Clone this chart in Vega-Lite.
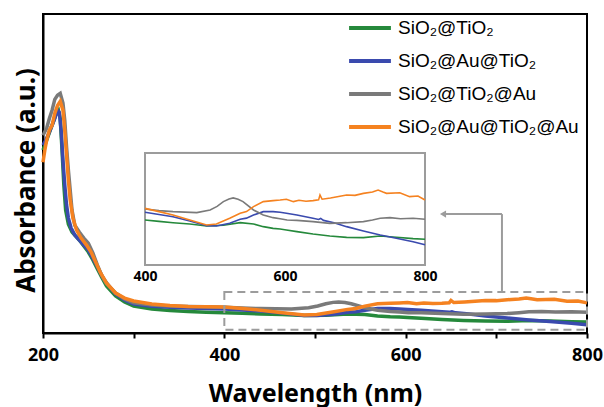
{
  "$schema": "https://vega.github.io/schema/vega-lite/v6.json",
  "width": 544,
  "height": 319,
  "autosize": {"type": "none"},
  "padding": {"left": 43, "top": 14, "right": 17, "bottom": 74},
  "config": {"view": {"stroke": "#000", "strokeWidth": 2}, "font": "Noto Sans"},
  "datasets": {
    "spec": [
      {"s":"SiO₂@TiO₂","w":200,"v":58.1},{"s":"SiO₂@TiO₂","w":204,"v":61.2},{"s":"SiO₂@TiO₂","w":208,"v":64.4},{"s":"SiO₂@TiO₂","w":212,"v":67.5},{"s":"SiO₂@TiO₂","w":215,"v":70.0},{"s":"SiO₂@TiO₂","w":217,"v":70.7},{"s":"SiO₂@TiO₂","w":219,"v":68.1},{"s":"SiO₂@TiO₂","w":221,"v":58.1},{"s":"SiO₂@TiO₂","w":223,"v":47.1},{"s":"SiO₂@TiO₂","w":225,"v":39.2},{"s":"SiO₂@TiO₂","w":228,"v":34.8},{"s":"SiO₂@TiO₂","w":232,"v":32.3},{"s":"SiO₂@TiO₂","w":236,"v":31.0},{"s":"SiO₂@TiO₂","w":240,"v":29.8},{"s":"SiO₂@TiO₂","w":245,"v":27.9},{"s":"SiO₂@TiO₂","w":250,"v":26.0},{"s":"SiO₂@TiO₂","w":255,"v":23.5},{"s":"SiO₂@TiO₂","w":260,"v":20.7},{"s":"SiO₂@TiO₂","w":265,"v":17.9},{"s":"SiO₂@TiO₂","w":270,"v":15.3},{"s":"SiO₂@TiO₂","w":280,"v":12.2},{"s":"SiO₂@TiO₂","w":290,"v":10.3},{"s":"SiO₂@TiO₂","w":300,"v":9.02},{"s":"SiO₂@TiO₂","w":320,"v":8.08},{"s":"SiO₂@TiO₂","w":340,"v":7.61},{"s":"SiO₂@TiO₂","w":360,"v":7.3},{"s":"SiO₂@TiO₂","w":380,"v":7.05},{"s":"SiO₂@TiO₂","w":400,"v":6.91},{"s":"SiO₂@TiO₂","w":420,"v":6.7},{"s":"SiO₂@TiO₂","w":440,"v":6.5},{"s":"SiO₂@TiO₂","w":464,"v":6.3},{"s":"SiO₂@TiO₂","w":488,"v":5.99},{"s":"SiO₂@TiO₂","w":512,"v":6.1},{"s":"SiO₂@TiO₂","w":536,"v":6.5},{"s":"SiO₂@TiO₂","w":555,"v":6.3},{"s":"SiO₂@TiO₂","w":569,"v":5.89},{"s":"SiO₂@TiO₂","w":583,"v":5.63},{"s":"SiO₂@TiO₂","w":593,"v":5.53},{"s":"SiO₂@TiO₂","w":602,"v":5.38},{"s":"SiO₂@TiO₂","w":617,"v":5.12},{"s":"SiO₂@TiO₂","w":640,"v":4.76},{"s":"SiO₂@TiO₂","w":664,"v":4.45},{"s":"SiO₂@TiO₂","w":688,"v":4.25},{"s":"SiO₂@TiO₂","w":712,"v":4.2},{"s":"SiO₂@TiO₂","w":736,"v":4.45},{"s":"SiO₂@TiO₂","w":759,"v":4.25},{"s":"SiO₂@TiO₂","w":783,"v":4.05},{"s":"SiO₂@TiO₂","w":800,"v":3.95},
      {"s":"SiO₂@Au@TiO₂","w":200,"v":59.7},{"s":"SiO₂@Au@TiO₂","w":203,"v":61.2},{"s":"SiO₂@Au@TiO₂","w":206,"v":63.1},{"s":"SiO₂@Au@TiO₂","w":210,"v":65.9},{"s":"SiO₂@Au@TiO₂","w":213,"v":68.1},{"s":"SiO₂@Au@TiO₂","w":216,"v":70.7},{"s":"SiO₂@Au@TiO₂","w":218,"v":70.0},{"s":"SiO₂@Au@TiO₂","w":220,"v":64.4},{"s":"SiO₂@Au@TiO₂","w":222,"v":54.9},{"s":"SiO₂@Au@TiO₂","w":224,"v":47.1},{"s":"SiO₂@Au@TiO₂","w":226,"v":40.8},{"s":"SiO₂@Au@TiO₂","w":228,"v":36.7},{"s":"SiO₂@Au@TiO₂","w":231,"v":33.6},{"s":"SiO₂@Au@TiO₂","w":235,"v":31.4},{"s":"SiO₂@Au@TiO₂","w":240,"v":29.8},{"s":"SiO₂@Au@TiO₂","w":245,"v":28.2},{"s":"SiO₂@Au@TiO₂","w":250,"v":26.6},{"s":"SiO₂@Au@TiO₂","w":255,"v":24.1},{"s":"SiO₂@Au@TiO₂","w":260,"v":21.3},{"s":"SiO₂@Au@TiO₂","w":265,"v":18.5},{"s":"SiO₂@Au@TiO₂","w":270,"v":16.3},{"s":"SiO₂@Au@TiO₂","w":280,"v":12.8},{"s":"SiO₂@Au@TiO₂","w":290,"v":10.9},{"s":"SiO₂@Au@TiO₂","w":300,"v":9.65},{"s":"SiO₂@Au@TiO₂","w":320,"v":8.9},{"s":"SiO₂@Au@TiO₂","w":340,"v":8.6},{"s":"SiO₂@Au@TiO₂","w":360,"v":8.4},{"s":"SiO₂@Au@TiO₂","w":380,"v":8.25},{"s":"SiO₂@Au@TiO₂","w":400,"v":8.09},{"s":"SiO₂@Au@TiO₂","w":420,"v":7.75},{"s":"SiO₂@Au@TiO₂","w":440,"v":7.42},{"s":"SiO₂@Au@TiO₂","w":464,"v":6.76},{"s":"SiO₂@Au@TiO₂","w":488,"v":6.04},{"s":"SiO₂@Au@TiO₂","w":502,"v":5.99},{"s":"SiO₂@Au@TiO₂","w":521,"v":6.4},{"s":"SiO₂@Au@TiO₂","w":536,"v":7.02},{"s":"SiO₂@Au@TiO₂","w":545,"v":7.2},{"s":"SiO₂@Au@TiO₂","w":555,"v":7.68},{"s":"SiO₂@Au@TiO₂","w":569,"v":8.19},{"s":"SiO₂@Au@TiO₂","w":583,"v":8.19},{"s":"SiO₂@Au@TiO₂","w":593,"v":8.09},{"s":"SiO₂@Au@TiO₂","w":602,"v":7.94},{"s":"SiO₂@Au@TiO₂","w":617,"v":7.68},{"s":"SiO₂@Au@TiO₂","w":640,"v":7.17},{"s":"SiO₂@Au@TiO₂","w":648,"v":7.0},{"s":"SiO₂@Au@TiO₂","w":651,"v":7.15},{"s":"SiO₂@Au@TiO₂","w":655,"v":6.85},{"s":"SiO₂@Au@TiO₂","w":670,"v":6.5},{"s":"SiO₂@Au@TiO₂","w":688,"v":5.89},{"s":"SiO₂@Au@TiO₂","w":712,"v":5.22},{"s":"SiO₂@Au@TiO₂","w":736,"v":4.61},{"s":"SiO₂@Au@TiO₂","w":759,"v":4.1},{"s":"SiO₂@Au@TiO₂","w":783,"v":3.58},{"s":"SiO₂@Au@TiO₂","w":800,"v":3.1},
      {"s":"SiO₂@TiO₂@Au","w":200,"v":62.8},{"s":"SiO₂@TiO₂@Au","w":204,"v":65.0},{"s":"SiO₂@TiO₂@Au","w":207,"v":68.1},{"s":"SiO₂@TiO₂@Au","w":210,"v":70.7},{"s":"SiO₂@TiO₂@Au","w":213,"v":74.1},{"s":"SiO₂@TiO₂@Au","w":216,"v":75.4},{"s":"SiO₂@TiO₂@Au","w":219,"v":76.0},{"s":"SiO₂@TiO₂@Au","w":222,"v":72.9},{"s":"SiO₂@TiO₂@Au","w":224,"v":67.5},{"s":"SiO₂@TiO₂@Au","w":226,"v":59.0},{"s":"SiO₂@TiO₂@Au","w":228,"v":51.8},{"s":"SiO₂@TiO₂@Au","w":230,"v":45.5},{"s":"SiO₂@TiO₂@Au","w":232,"v":39.2},{"s":"SiO₂@TiO₂@Au","w":235,"v":34.5},{"s":"SiO₂@TiO₂@Au","w":240,"v":32.3},{"s":"SiO₂@TiO₂@Au","w":245,"v":30.4},{"s":"SiO₂@TiO₂@Au","w":250,"v":28.8},{"s":"SiO₂@TiO₂@Au","w":255,"v":25.7},{"s":"SiO₂@TiO₂@Au","w":260,"v":21.9},{"s":"SiO₂@TiO₂@Au","w":265,"v":18.5},{"s":"SiO₂@TiO₂@Au","w":270,"v":16.0},{"s":"SiO₂@TiO₂@Au","w":280,"v":13.1},{"s":"SiO₂@TiO₂@Au","w":290,"v":11.2},{"s":"SiO₂@TiO₂@Au","w":300,"v":10.0},{"s":"SiO₂@TiO₂@Au","w":320,"v":9.3},{"s":"SiO₂@TiO₂@Au","w":340,"v":9.0},{"s":"SiO₂@TiO₂@Au","w":360,"v":8.85},{"s":"SiO₂@TiO₂@Au","w":380,"v":8.75},{"s":"SiO₂@TiO₂@Au","w":400,"v":8.6},{"s":"SiO₂@TiO₂@Au","w":420,"v":8.35},{"s":"SiO₂@TiO₂@Au","w":440,"v":8.19},{"s":"SiO₂@TiO₂@Au","w":474,"v":8.04},{"s":"SiO₂@TiO₂@Au","w":493,"v":8.45},{"s":"SiO₂@TiO₂@Au","w":503,"v":9.0},{"s":"SiO₂@TiO₂@Au","w":512,"v":9.73},{"s":"SiO₂@TiO₂@Au","w":520,"v":10.15},{"s":"SiO₂@TiO₂@Au","w":526,"v":10.3},{"s":"SiO₂@TiO₂@Au","w":533,"v":10.1},{"s":"SiO₂@TiO₂@Au","w":540,"v":9.73},{"s":"SiO₂@TiO₂@Au","w":555,"v":8.45},{"s":"SiO₂@TiO₂@Au","w":569,"v":7.68},{"s":"SiO₂@TiO₂@Au","w":583,"v":7.27},{"s":"SiO₂@TiO₂@Au","w":593,"v":7.1},{"s":"SiO₂@TiO₂@Au","w":603,"v":6.91},{"s":"SiO₂@TiO₂@Au","w":617,"v":6.85},{"s":"SiO₂@TiO₂@Au","w":640,"v":6.66},{"s":"SiO₂@TiO₂@Au","w":664,"v":6.4},{"s":"SiO₂@TiO₂@Au","w":688,"v":6.5},{"s":"SiO₂@TiO₂@Au","w":712,"v":6.66},{"s":"SiO₂@TiO₂@Au","w":725,"v":6.9},{"s":"SiO₂@TiO₂@Au","w":736,"v":7.17},{"s":"SiO₂@TiO₂@Au","w":750,"v":7.27},{"s":"SiO₂@TiO₂@Au","w":765,"v":7.1},{"s":"SiO₂@TiO₂@Au","w":783,"v":7.17},{"s":"SiO₂@TiO₂@Au","w":800,"v":7.02},
      {"s":"SiO₂@Au@TiO₂@Au","w":200,"v":54.3},{"s":"SiO₂@Au@TiO₂@Au","w":202,"v":58.1},{"s":"SiO₂@Au@TiO₂@Au","w":204,"v":61.2},{"s":"SiO₂@Au@TiO₂@Au","w":207,"v":64.4},{"s":"SiO₂@Au@TiO₂@Au","w":210,"v":65.9},{"s":"SiO₂@Au@TiO₂@Au","w":213,"v":69.7},{"s":"SiO₂@Au@TiO₂@Au","w":216,"v":72.2},{"s":"SiO₂@Au@TiO₂@Au","w":219,"v":73.5},{"s":"SiO₂@Au@TiO₂@Au","w":222,"v":70.7},{"s":"SiO₂@Au@TiO₂@Au","w":224,"v":64.4},{"s":"SiO₂@Au@TiO₂@Au","w":226,"v":56.5},{"s":"SiO₂@Au@TiO₂@Au","w":228,"v":48.6},{"s":"SiO₂@Au@TiO₂@Au","w":230,"v":42.4},{"s":"SiO₂@Au@TiO₂@Au","w":233,"v":36.7},{"s":"SiO₂@Au@TiO₂@Au","w":237,"v":32.9},{"s":"SiO₂@Au@TiO₂@Au","w":242,"v":30.4},{"s":"SiO₂@Au@TiO₂@Au","w":248,"v":28.2},{"s":"SiO₂@Au@TiO₂@Au","w":253,"v":26.0},{"s":"SiO₂@Au@TiO₂@Au","w":258,"v":22.9},{"s":"SiO₂@Au@TiO₂@Au","w":263,"v":19.7},{"s":"SiO₂@Au@TiO₂@Au","w":270,"v":16.3},{"s":"SiO₂@Au@TiO₂@Au","w":280,"v":13.1},{"s":"SiO₂@Au@TiO₂@Au","w":290,"v":11.5},{"s":"SiO₂@Au@TiO₂@Au","w":300,"v":10.6},{"s":"SiO₂@Au@TiO₂@Au","w":320,"v":9.65},{"s":"SiO₂@Au@TiO₂@Au","w":340,"v":9.18},{"s":"SiO₂@Au@TiO₂@Au","w":360,"v":8.87},{"s":"SiO₂@Au@TiO₂@Au","w":380,"v":8.75},{"s":"SiO₂@Au@TiO₂@Au","w":400,"v":8.7},{"s":"SiO₂@Au@TiO₂@Au","w":420,"v":8.2},{"s":"SiO₂@Au@TiO₂@Au","w":440,"v":7.68},{"s":"SiO₂@Au@TiO₂@Au","w":464,"v":6.91},{"s":"SiO₂@Au@TiO₂@Au","w":488,"v":6.14},{"s":"SiO₂@Au@TiO₂@Au","w":502,"v":6.3},{"s":"SiO₂@Au@TiO₂@Au","w":521,"v":7.17},{"s":"SiO₂@Au@TiO₂@Au","w":536,"v":7.94},{"s":"SiO₂@Au@TiO₂@Au","w":545,"v":8.2},{"s":"SiO₂@Au@TiO₂@Au","w":555,"v":8.96},{"s":"SiO₂@Au@TiO₂@Au","w":569,"v":9.73},{"s":"SiO₂@Au@TiO₂@Au","w":583,"v":9.88},{"s":"SiO₂@Au@TiO₂@Au","w":593,"v":9.98},{"s":"SiO₂@Au@TiO₂@Au","w":602,"v":10.1},{"s":"SiO₂@Au@TiO₂@Au","w":612,"v":9.73},{"s":"SiO₂@Au@TiO₂@Au","w":620,"v":9.95},{"s":"SiO₂@Au@TiO₂@Au","w":630,"v":9.8},{"s":"SiO₂@Au@TiO₂@Au","w":640,"v":9.88},{"s":"SiO₂@Au@TiO₂@Au","w":648,"v":10.0},{"s":"SiO₂@Au@TiO₂@Au","w":650,"v":10.75},{"s":"SiO₂@Au@TiO₂@Au","w":653,"v":10.1},{"s":"SiO₂@Au@TiO₂@Au","w":665,"v":10.3},{"s":"SiO₂@Au@TiO₂@Au","w":688,"v":10.75},{"s":"SiO₂@Au@TiO₂@Au","w":700,"v":10.7},{"s":"SiO₂@Au@TiO₂@Au","w":712,"v":11.0},{"s":"SiO₂@Au@TiO₂@Au","w":725,"v":11.2},{"s":"SiO₂@Au@TiO₂@Au","w":733,"v":11.5},{"s":"SiO₂@Au@TiO₂@Au","w":740,"v":11.2},{"s":"SiO₂@Au@TiO₂@Au","w":745,"v":11.0},{"s":"SiO₂@Au@TiO₂@Au","w":764,"v":11.1},{"s":"SiO₂@Au@TiO₂@Au","w":778,"v":10.5},{"s":"SiO₂@Au@TiO₂@Au","w":790,"v":10.6},{"s":"SiO₂@Au@TiO₂@Au","w":800,"v":9.98}
    ]
  },
  "layer": [
    {
      "layer": [
        {
          "data": {"name": "spec"},
          "mark": {"type": "line", "strokeWidth": 3.5},
          "encoding": {
            "x": {
              "field": "w", "type": "quantitative",
              "scale": {"domain": [200, 800], "nice": false},
              "axis": {
                "values": [200, 300, 400, 500, 600, 700, 800],
                "labelExpr": "datum.value % 200 == 0 ? datum.label : ''",
                "labelFlush": false, "labelOverlap": false, "grid": false,
                "tickSize": 5, "tickWidth": 2, "tickColor": "#000",
                "domainColor": "#000", "domainWidth": 2,
                "labelFontSize": 18, "labelFontWeight": "bold", "labelColor": "#000", "labelPadding": 8,
                "title": "Wavelength (nm)", "titleFontSize": 25, "titleFontWeight": "bold", "titleColor": "#000", "titlePadding": 17
              }
            },
            "y": {
              "field": "v", "type": "quantitative",
              "scale": {"domain": [0.5, 101], "nice": false, "zero": false},
              "axis": {
                "labels": false, "ticks": false, "grid": false,
                "domainColor": "#000", "domainWidth": 2,
                "title": "Absorbance (a.u.)", "titleFontSize": 26, "titleFontWeight": "bold", "titleColor": "#000", "titlePadding": 4,
                "titleY": 166
              }
            },
            "color": {
              "field": "s", "type": "nominal",
              "scale": {
                "domain": ["SiO₂@TiO₂", "SiO₂@Au@TiO₂", "SiO₂@TiO₂@Au", "SiO₂@Au@TiO₂@Au"],
                "range": ["#25893b", "#3a4aae", "#7a7a7a", "#f58220"]
              },
              "legend": {
                "title": null, "orient": "none", "legendX": 304, "legendY": -9,
                "symbolType": "stroke", "symbolSize": 1750, "symbolStrokeWidth": 4,
                "labelFont": "Liberation Sans", "labelFontSize": 19, "labelColor": "#000", "labelLimit": 0,
                "labelOffset": 5, "rowPadding": 0
              }
            }
          }
        },
        {
          "data": {"values": [{}]},
          "mark": {"type": "rect", "filled": false, "stroke": "#9c9c9c", "strokeWidth": 2, "strokeDash": [8, 5]},
          "encoding": {
            "x": {"datum": 400, "type": "quantitative"}, "x2": {"datum": 800},
            "y": {"datum": 13.4, "type": "quantitative"}, "y2": {"datum": 1.5}
          }
        },
        {
          "data": {"values": [{}]},
          "mark": {"type": "rule", "stroke": "#9c9c9c", "strokeWidth": 2},
          "encoding": {
            "x": {"datum": 640, "type": "quantitative"}, "x2": {"datum": 706.2},
            "y": {"datum": 37.96, "type": "quantitative"}
          }
        },
        {
          "data": {"values": [{}]},
          "mark": {"type": "rule", "stroke": "#9c9c9c", "strokeWidth": 2},
          "encoding": {
            "x": {"datum": 706.2, "type": "quantitative"},
            "y": {"datum": 37.96, "type": "quantitative"}, "y2": {"datum": 13.4}
          }
        },
        {
          "data": {"values": [{}]},
          "mark": {"type": "point", "shape": "triangle-left", "filled": true, "color": "#9c9c9c", "size": 50, "opacity": 1},
          "encoding": {
            "x": {"datum": 641.2, "type": "quantitative"},
            "y": {"datum": 37.96, "type": "quantitative"}
          }
        }
      ]
    },
    {
      "layer": [
        {
          "data": {"values": [{}]},
          "mark": {"type": "rect", "fill": "white", "stroke": "#9c9c9c", "strokeWidth": 2},
          "encoding": {
            "x": {
              "datum": 400, "type": "quantitative",
              "scale": {"domain": [400, 800], "range": [102, 382], "nice": false},
              "axis": {
                "orient": "bottom", "offset": -68, "values": [400, 600, 800],
                "ticks": false, "domain": false, "grid": false, "labelFlush": false,
                "labelFontSize": 14, "labelFontWeight": "bold", "labelColor": "#000", "labelPadding": 4,
                "title": null
              }
            },
            "x2": {"datum": 800},
            "y": {
              "datum": 0, "type": "quantitative",
              "scale": {"domain": [0, 17.2], "range": [251, 139], "nice": false, "zero": false},
              "axis": null
            },
            "y2": {"datum": 17.2}
          }
        },
        {
          "data": {"name": "spec"},
          "transform": [{"filter": "datum.w >= 400"}],
          "mark": {"type": "line", "strokeWidth": 1.6},
          "encoding": {
            "x": {"field": "w", "type": "quantitative"},
            "y": {"field": "v", "type": "quantitative"},
            "color": {"field": "s", "type": "nominal"}
          }
        }
      ]
    }
  ],
  "resolve": {"scale": {"x": "independent", "y": "independent"}}
}
